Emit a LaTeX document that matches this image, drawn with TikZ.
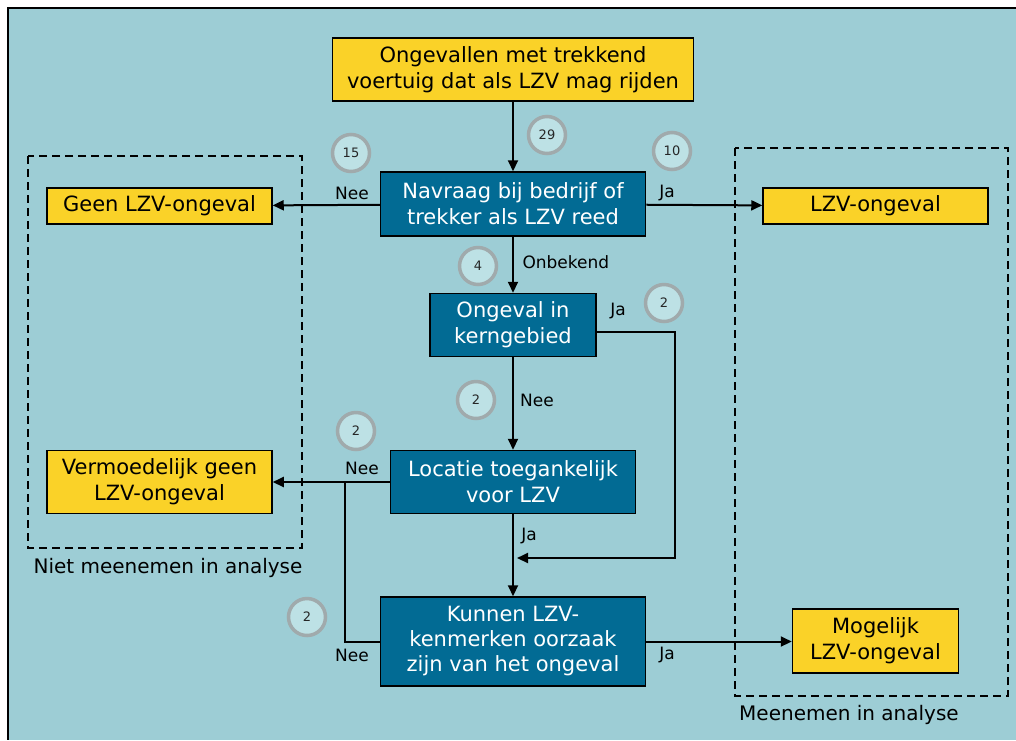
\documentclass[tikz,border=0pt]{standalone}
\usepackage{fontspec}
\setmainfont{DejaVu Sans}
\usepackage{tikz}
\usetikzlibrary{arrows.meta}
\usetikzlibrary{calc}
\definecolor{achter}{HTML}{9DCDD5}
\definecolor{donkerblauw}{HTML}{026B94}
\definecolor{geel}{HTML}{FAD228}
\definecolor{cirkel}{HTML}{BDE1E5}
\definecolor{ring}{HTML}{A0AAAC}
\tikzset{
    doos/.style={draw=black, line width=1.5pt, align=center, inner sep=0pt, font=\fontsize{21}{26}\selectfont},
    geeldoos/.style={doos, fill=geel},
    blauwdoos/.style={doos, fill=donkerblauw, text=white},
    pijl/.style={-{Triangle[length=11pt,width=10pt]}, line width=2pt},
    lijn/.style={line width=2pt},
    kader/.style={line width=2pt, dash pattern=on 8pt off 5pt},
    teller/.style={circle, draw=ring, line width=3.5pt, fill=cirkel, minimum size=37pt, inner sep=0pt, font=\fontsize{13}{13}\selectfont, text=black!85},
    keuze/.style={font=\fontsize{17}{20}\selectfont},
    groep/.style={font=\fontsize{20}{24}\selectfont}
}

\begin{document}
\begin{tikzpicture}[x=1pt,y=-1pt]
\useasboundingbox (0,0) rectangle (1016,740);
\fill[achter] (8,8) rectangle (1016,740);
\draw[line width=2pt] (1016,8) -- (8,8) -- (8,740);
% kaders
\draw[kader] (28,156) rectangle (302,548);
\draw[kader] (735,148) rectangle (1008,696);
\node[groep] (niet) at (168,568) {Niet meenemen in analyse};
\node[groep] (wel) at (849,715) {Meenemen in analyse};
% dozen
\node[geeldoos, minimum width=361, minimum height=63] (start) at (513,69.5) {Ongevallen met trekkend\\voertuig dat als LZV mag rijden};
\node[blauwdoos, minimum width=265, minimum height=64] (nav) at (513,204) {Navraag bij bedrijf of\\trekker als LZV reed};
\node[blauwdoos, minimum width=166, minimum height=63] (kern) at (513,325) {Ongeval in\\kerngebied};
\node[blauwdoos, minimum width=245, minimum height=63] (loc) at (513,482) {Locatie toegankelijk\\voor LZV};
\node[blauwdoos, minimum width=265, minimum height=89, font=\fontsize{21}{25}\selectfont] (kun) at (513,641.5) {Kunnen LZV-\\kenmerken oorzaak\\zijn van het ongeval};
\node[geeldoos, minimum width=225, minimum height=36] (geen) at (159.5,206) {Geen LZV-ongeval};
\node[geeldoos, minimum width=225, minimum height=36] (lzv) at (875.5,206) {LZV-ongeval};
\node[geeldoos, minimum width=225, minimum height=63] (verm) at (159.5,482) {Vermoedelijk geen\\LZV-ongeval};
\node[geeldoos, minimum width=166, minimum height=64] (mog) at (875.5,641) {Mogelijk\\LZV-ongeval};
% aantallen
\foreach \x/\y/\n/\p in {547/135/29/c29, 351/153/15/c15, 672/151/10/c10, 478/266/4/c4, 664/303/2/ckern, 476/400/2/cnee, 356/431/2/cloc, 307/617/2/ckun}{
    \node[teller] (\p) at (\x,\y) {\n};
}
% verbindingen
\coordinate (neejoin) at (345,482);
\coordinate (kernin) at (517,558);
\draw[pijl] (start) -- (nav);
\draw[pijl] (nav) -- (geen);
\draw[pijl] (nav) -- (lzv);
\draw[pijl] (nav) -- (kern);
\draw[pijl] ([yshift=-7pt]kern.east) -- ++(78,0) |- (kernin);
\draw[pijl] (kern) -- (loc);
\draw[pijl] (loc) -- (verm);
\draw[pijl] (loc) -- (kun);
\draw[lijn] (kun.west) -| (neejoin);
\draw[pijl] (kun.east) -- (mog.west |- kun.east);
% labels
\node[keuze] (n1) at (352,193) {Nee};
\node[keuze] (j1) at (667,193) {Ja};
\node[keuze, anchor=west] (onb) at (519,262) {Onbekend};
\node[keuze] (j2) at (618,311) {Ja};
\node[keuze] (n2) at (537,400) {Nee};
\node[keuze] (n3) at (362,468) {Nee};
\node[keuze] (j3) at (529,536) {Ja};
\node[keuze] (n4) at (352,655) {Nee};
\node[keuze] (j4) at (667,655) {Ja};
\end{tikzpicture}
\end{document}
